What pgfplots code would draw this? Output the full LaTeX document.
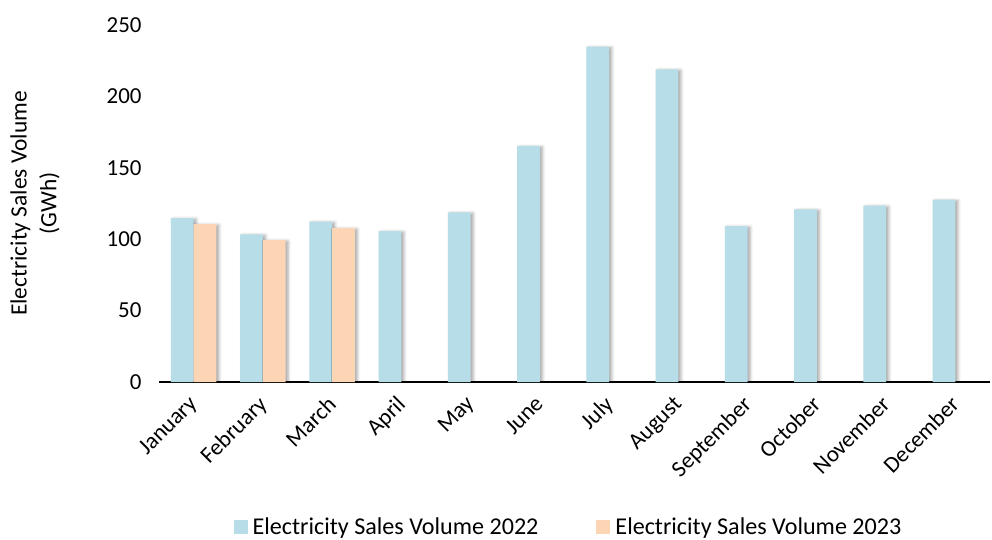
\documentclass[border=0pt]{standalone}
\usepackage{pgfplots}
\pgfplotsset{compat=1.18}
\usepackage{fontspec}
\setmainfont{Carlito}
\usetikzlibrary{shadows.blur}
\definecolor{blue22}{RGB}{183,221,232}
\definecolor{peach23}{RGB}{252,213,180}

\begin{document}
\begin{tikzpicture}
\begin{axis}[
  name=ax,
  scale only axis, width=831bp, height=357bp,
  ybar=0pt, bar width=22.7bp,
  xmin=-0.5, xmax=11.5, ymin=0, ymax=250,
  enlargelimits=false,
  xtick={0,...,11},
  xticklabels={January,February,March,April,May,June,July,August,September,October,November,December},
  ytick={0,50,...,250},
  axis x line*=bottom, axis y line*=left,
  y axis line style={draw=none},
  x axis line style={line width=1.5pt},
  major tick length=0pt,
  tick label style={font=\fontsize{23}{27}\selectfont},
  /pgf/number format/assume math mode=true,
  yticklabel style={xshift=-14bp},
  xticklabel style={rotate=45, anchor=north east, inner sep=1pt, xshift=-12bp, yshift=-3.5bp},
  ylabel={Electricity Sales Volume\\(GWh)},
  ylabel style={at={(axis description cs:0,0.5)}, anchor=center, yshift=124bp,
    align=center, font=\fontsize{23.5}{30}\selectfont},
  legend style={at={(0.5,0)}, xshift=-6bp, yshift=-132bp, anchor=north, draw=none, fill=none,
    legend columns=2, font=\fontsize{24.2}{28}\selectfont,
    /tikz/every even column/.style={column sep=56bp}},
  legend image code/.code={\fill[#1] (0bp,-7bp) rectangle (14bp,7bp);},
  legend cell align=left,
]
\addlegendimage{fill=blue22, draw=none}
\addlegendentry{\hspace{3bp}Electricity Sales Volume 2022}
\addlegendimage{fill=peach23, draw=none}
\addlegendentry{\hspace{3bp}Electricity Sales Volume 2023}
\addplot[forget plot, bar shift=-11.35bp, fill=blue22, draw=none,
  blur shadow={shadow xshift=2.5bp, shadow yshift=-1bp, shadow blur radius=3bp, shadow opacity=35}]
  coordinates {(0,114.8) (1,103.4) (2,112.3) (3,105.7) (4,118.8) (5,165.3)
               (6,234.8) (7,219.0) (8,109.2) (9,120.9) (10,123.5) (11,127.7)};
\addplot[forget plot, bar shift=11.35bp, fill=peach23, draw=none,
  blur shadow={shadow xshift=2.5bp, shadow yshift=-1bp, shadow blur radius=3bp, shadow opacity=35}]
  coordinates {(0,110.6) (1,99.4) (2,107.8)};
\end{axis}
\pgfresetboundingbox
\path[use as bounding box] ([xshift=-159bp,yshift=-158bp]ax.south west) rectangle ([xshift=833bp,yshift=382bp]ax.south west);
\end{tikzpicture}
\end{document}
